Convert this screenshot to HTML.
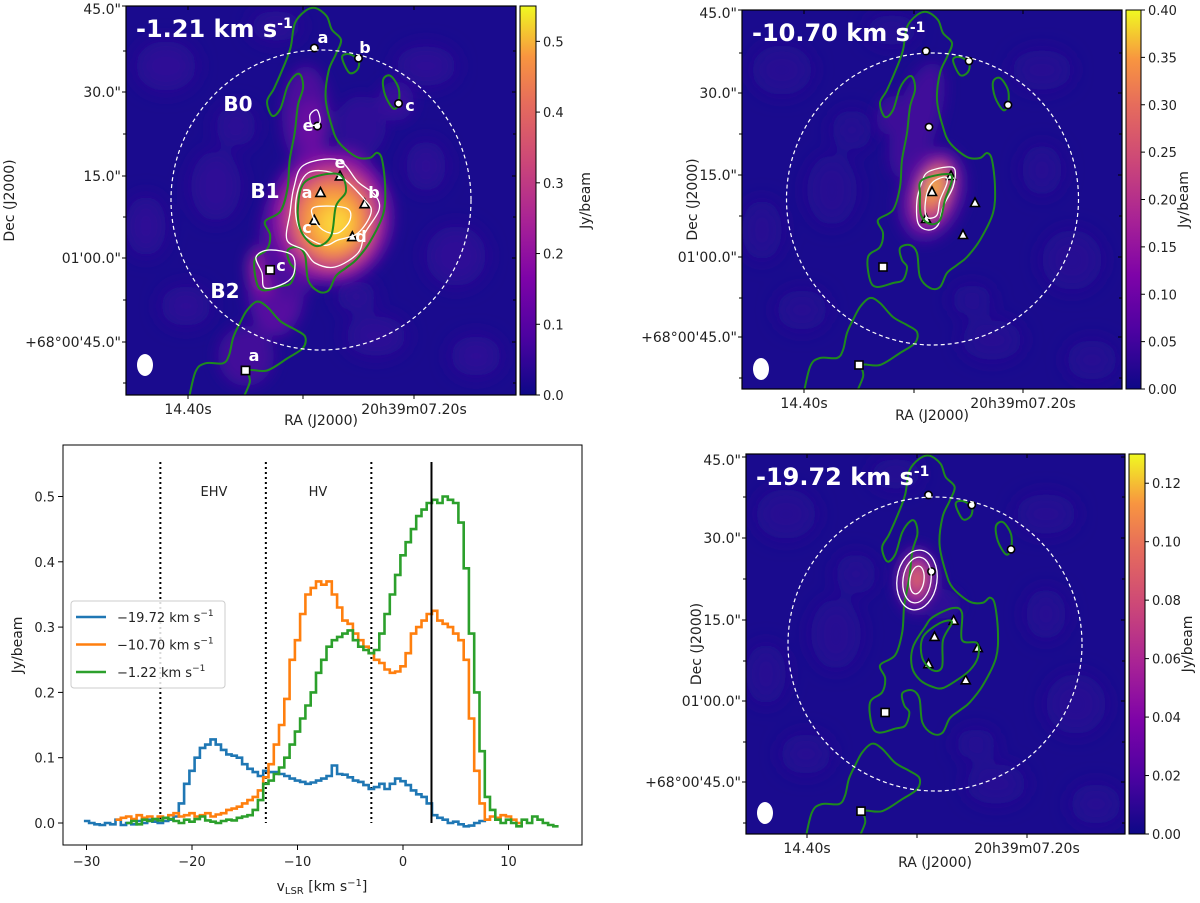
<!DOCTYPE html>
<html><head><meta charset="utf-8"><style>
body{margin:0;background:#fff;}
svg text{font-family:"DejaVu Sans","Liberation Sans",sans-serif;}
</style></head><body>
<svg id="fig" xmlns="http://www.w3.org/2000/svg" width="1200" height="898" viewBox="0 0 1200 898">
<defs>
<linearGradient id="plasma" x1="0" y1="1" x2="0" y2="0">
<stop offset="0" stop-color="#0d0887"/><stop offset="0.15" stop-color="#4c02a1"/><stop offset="0.3" stop-color="#7e03a8"/><stop offset="0.45" stop-color="#a92395"/><stop offset="0.6" stop-color="#cc4778"/><stop offset="0.75" stop-color="#e66c5c"/><stop offset="0.87" stop-color="#f89540"/><stop offset="1" stop-color="#f0f921"/>
</linearGradient>
<filter id="blur" x="-50%" y="-50%" width="200%" height="200%"><feGaussianBlur stdDeviation="7"/></filter>
<filter id="blur3" x="-50%" y="-50%" width="200%" height="200%"><feGaussianBlur stdDeviation="10"/></filter>
<clipPath id="cp1"><rect x="0" y="0" width="390" height="389"/></clipPath>
<clipPath id="cp2"><rect x="0" y="0" width="380" height="379"/></clipPath>
<clipPath id="cp3"><rect x="0" y="0" width="379" height="380"/></clipPath>
<clipPath id="cps"><rect x="63" y="445" width="519" height="400"/></clipPath>
</defs>
<g id="maps"></g>
<g id="spec"></g>
</svg>
<script>
// ---------- spectrum data ----------
const blueStart = -30;
const blueVals = [0.003,0.0,-0.002,-0.003,0.0,-0.002,0.005,-0.003,0.0,-0.002,0.003,0.0,0.005,0.002,0.0,0.003,0.005,
0.01,0.03,0.06,0.08,0.10,0.115,0.12,0.128,0.12,0.112,0.105,0.103,0.1,0.09,0.083,0.078,0.072,0.08,0.078,0.078,0.075,0.072,0.068,0.065,0.063,0.06,0.062,0.065,0.068,0.072,0.088,0.075,0.074,0.07,0.065,0.063,0.058,0.052,0.055,0.06,0.052,0.06,0.068,0.064,0.058,0.05,0.044,0.04,0.03,0.012,0.008,0.005,0.0,0.002,-0.002,-0.005,-0.004,0.0,0.003,0.005];
const orangeStart = -27;
const orangeVals = [0.005,0.008,0.01,0.006,0.012,0.008,0.01,0.006,0.01,0.008,0.012,
0.015,0.01,0.012,0.015,0.01,0.012,0.015,0.01,0.013,0.015,0.02,0.022,0.025,0.03,0.035,0.04,0.05,0.07,0.09,0.12,0.15,0.19,0.25,0.28,0.32,0.35,0.36,0.37,0.365,0.37,0.35,0.33,0.31,0.305,0.29,0.28,0.27,0.26,0.25,0.245,0.235,0.23,0.232,0.24,0.26,0.29,0.30,0.31,0.32,0.325,0.31,0.305,0.30,0.29,0.28,0.25,0.16,0.08,0.03,0.005,0.01,0.008,0.012,0.01,0.005,0.0];
const greenStart = -26;
const greenVals = [0.0,0.003,-0.002,0.005,0.003,0.006,0.004,0.008,0.006,0.003,0.0,0.005,0.002,0.006,0.01,0.004,0.002,0.0,0.003,0.005,0.004,0.008,0.01,0.012,0.02,
0.035,0.06,0.065,0.075,0.085,0.1,0.12,0.14,0.16,0.18,0.2,0.23,0.25,0.27,0.28,0.285,0.29,0.295,0.28,0.27,0.265,0.26,0.265,0.29,0.32,0.35,0.38,0.41,0.43,0.45,0.47,0.48,0.49,0.495,0.49,0.5,0.495,0.49,0.46,0.39,0.29,0.2,0.11,0.04,0.02,0.005,0.0,0.005,0.0,-0.005,0.005,0.0,0.01,0.005,0.0,-0.003,-0.005];
const chanWidth = 0.5;
const xTicks = [-30,-20,-10,0,10];
const yTicks = [0.0,0.1,0.2,0.3,0.4,0.5];
const regionLines = [-23,-13,-3];
const systemicV = 2.7;
const seriesNames = ["-19.72","-10.70","-1.22"];
const seriesColors = ["#1f77b4","#ff7f0e","#2ca02c"];

const NS="http://www.w3.org/2000/svg";
function mk(tag,attrs,parent){const e=document.createElementNS(NS,tag);for(const k in attrs)e.setAttribute(k,attrs[k]);if(parent)parent.appendChild(e);return e;}
const sx=v=>403+10.55*v;
const sy=f=>823-653*f;
const spec=document.getElementById('spec');

let fr=mk('rect',{x:63,y:445,width:519,height:400,fill:'none',stroke:'#000','stroke-width':1},spec);


xTicks.forEach(t=>{
  let l=mk('line',{x1:sx(t),x2:sx(t),y1:845,y2:850,stroke:'#000'},spec);
  
  
  let tx=mk('text',{x:sx(t),y:866,'text-anchor':'middle','font-size':13,fill:'#222'},spec);
  tx.textContent=(t<0?'\u2212':'')+Math.abs(t);
  
  
});
yTicks.forEach(t=>{
  let l=mk('line',{x1:58,x2:63,y1:sy(t),y2:sy(t),stroke:'#000'},spec);
  
  
  let tx=mk('text',{x:55,y:sy(t)+5,'text-anchor':'end','font-size':13,fill:'#222'},spec);
  tx.textContent=t.toFixed(1);
  
  
});
let yl=mk('text',{x:0,y:0,transform:'translate(22,645) rotate(-90)','text-anchor':'middle','font-size':14,fill:'#222'},spec);
yl.textContent='Jy/beam';


let xl=mk('text',{x:322,y:891,'text-anchor':'middle','font-size':14,fill:'#222'},spec);
xl.innerHTML='v<tspan font-size="10" dy="3">LSR</tspan><tspan dy="-3"> [km s</tspan><tspan font-size="10" dy="-5">\u22121</tspan><tspan dy="5">]</tspan>';



const plotG=mk('g',{'clip-path':'url(#cps)'},spec);
regionLines.forEach(v=>{
  let l=mk('line',{x1:sx(v),x2:sx(v),y1:462,y2:823,stroke:'#000','stroke-width':2,'stroke-dasharray':'2,3'},plotG);
  
  
});
function stepPath(start,vals){
  let d='';
  vals.forEach((f,i)=>{const v=start+i*chanWidth;const x0=sx(v-chanWidth/2),x1=sx(v+chanWidth/2),y=sy(f);d+=(i===0?'M':'L')+x0.toFixed(1)+','+y.toFixed(1)+'L'+x1.toFixed(1)+','+y.toFixed(1);});
  return d;
}
[[blueStart,blueVals],[orangeStart,orangeVals],[greenStart,greenVals]].forEach((s,i)=>{
  let p=mk('path',{d:stepPath(s[0],s[1]),fill:'none',stroke:seriesColors[i],'stroke-width':2.6,'stroke-linejoin':'miter'},plotG);
  
  
});
let sl=mk('line',{x1:sx(systemicV),x2:sx(systemicV),y1:462,y2:823,stroke:'#000','stroke-width':2},plotG);


let t1=mk('text',{x:214,y:496,'text-anchor':'middle','font-size':13,fill:'#222'},spec);t1.textContent='EHV';


let t2=mk('text',{x:318,y:496,'text-anchor':'middle','font-size':13,fill:'#222'},spec);t2.textContent='HV';


const lg=mk('g',{},spec);


mk('rect',{x:71,y:601,width:154,height:87,rx:3,fill:'#fff','fill-opacity':0.85,stroke:'#ccc'},lg);
seriesNames.forEach((n,i)=>{
  const y=617+i*27.5;
  let e=mk('g',{},lg);
  
  
  mk('line',{x1:76,x2:106,y1:y,y2:y,stroke:seriesColors[i],'stroke-width':2.6},e);
  let t=mk('text',{x:117,y:y+5,'font-size':13,fill:'#222'},e);
  t.innerHTML=n.replace('-','\u2212')+' km s<tspan font-size="9" dy="-6">\u22121</tspan>';
});

// ---------- maps ----------
const maps=document.getElementById('maps');
const outerC=[[185,2],[196,10],[201,23],[210,33],[205,47],[198,63],[195,90],[201,117],[208,133],[225,147],[238,148],[245,143],[250,150],[253,177],[251,203],[238,230],[225,247],[215,255],[205,263],[198,277],[188,278],[178,267],[175,243],[168,235],[158,238],[160,250],[165,257],[161,270],[151,273],[135,277],[128,270],[126,247],[138,237],[141,223],[136,210],[151,200],[158,177],[160,150],[165,123],[168,97],[173,80],[171,68],[166,67],[158,78],[151,100],[143,107],[138,93],[145,80],[155,57],[161,40],[165,17],[175,5]];
const lowerC=[[110,392],[121,367],[120,355],[138,355],[158,343],[173,333],[175,322],[165,315],[151,307],[138,293],[128,288],[118,297],[111,310],[105,323],[101,340],[95,348],[78,348],[68,357],[60,392]];
const loopB=[[211,50],[218,65],[226,62],[227,53],[218,47]];
const loopC=[[266,95],[261,100],[253,87],[251,72],[258,68],[266,80]];
const circMk=[[184,41],[227,51],[266,95],[187,117]];
const triMk=[[209,166],[190,182],[233,193],[184,209],[221,225]];
const sqMk=[[141,257],[117,355]];
// faint background haze blobs (common coords)
const haze=[[40,60,30,25],[90,180,25,35],[300,60,30,20],[330,250,30,30],[60,300,25,20],[250,330,30,20],[300,160,20,25],[20,220,20,30],[150,20,25,15],[350,350,25,20],[230,290,20,15],[110,120,20,20]];

function smooth(pts,closed){
  const n=pts.length;const P=i=>closed?pts[(i+n)%n]:pts[Math.max(0,Math.min(n-1,i))];
  let d='M'+pts[0][0]+','+pts[0][1];
  const m=closed?n:n-1;
  for(let i=0;i<m;i++){const p0=P(i-1),p1=P(i),p2=P(i+1),p3=P(i+2);
    const c1=[p1[0]+(p2[0]-p0[0])/6,p1[1]+(p2[1]-p0[1])/6],c2=[p2[0]-(p3[0]-p1[0])/6,p2[1]-(p3[1]-p1[1])/6];
    d+='C'+c1.map(v=>v.toFixed(1)).join(',')+' '+c2.map(v=>v.toFixed(1)).join(',')+' '+p2[0]+','+p2[1];}
  return d+(closed?'Z':'');
}
function contour(g,pts,closed,color,w,name){let p=mk('path',{d:smooth(pts,closed),fill:'none',stroke:color,'stroke-width':w},g);return p;}

const panels=[
 {x:126,y:6,w:390,h:389,cp:'cp1',cx:195,cy:194,r:150,title:'-1.21',cb:{x:520,w:16,max:0.55,ticks:[0,0.1,0.2,0.3,0.4,0.5],dec:1,lx:590},
  xt:[62,177,288],yt:[0,86,170,252,336],yminor:[45,128,211,294,377],ra:[321,425]},
 {x:742,y:10,w:380,h:379,cp:'cp2',cx:190.5,cy:189,r:146,title:'-10.70',cb:{x:1126,w:15,max:0.40,ticks:[0,0.05,0.1,0.15,0.2,0.25,0.3,0.35,0.4],dec:2,lx:1188},
  xt:[62,172,281],yt:[0,83,165,247,327],yminor:[43,124,206,288,368],ra:[932,420]},
 {x:746,y:454,w:379,h:380,cp:'cp3',cx:189,cy:190,r:147,title:'-19.72',cb:{x:1129,w:16,max:0.13,ticks:[0,0.02,0.04,0.06,0.08,0.1,0.12],dec:2,lx:1192},
  xt:[61,171,281],yt:[3,84,166,247,328],yminor:[43,125,207,288,369],ra:[935,867]}
];
panels.forEach((P,pi)=>{
  const g=mk('g',{transform:`translate(${P.x},${P.y})`},maps);
  
  
  const c=mk('g',{'clip-path':`url(#${P.cp})`},g);
  mk('rect',{x:0,y:0,width:P.w,height:P.h,fill:'#1a0b8e'},c);
  const hz=mk('g',{filter:'url(#blur3)'},c);
  haze.forEach(h=>mk('ellipse',{cx:h[0],cy:h[1],rx:h[2],ry:h[3],fill:pi===0?'#2e0a96':'#260a93'},hz));
  const em=mk('g',{filter:'url(#blur)'},c);
  
  
  const s=P.r/146;
  const inner=mk('g',{transform:`translate(${P.cx},${P.cy}) scale(${s.toFixed(3)}) translate(-190.5,-189)`},c);
  if(pi===0){
    [[180,110,24,50,'#4e0b9c'],[185,120,14,25,'#6a10a2'],[270,95,18,20,'#38089a'],[150,285,28,45,'#560ca0'],[120,350,28,30,'#42099a'],[140,262,18,24,'#9a1f9c'],[165,235,32,60,'#4a0a9c'],[235,120,25,30,'#2e0896'],
     [205,210,62,68,'#6f10a4'],[205,212,52,58,'#a92395'],[206,213,43,48,'#d8586c'],[207,214,34,38,'#f48a46'],[208,216,24,27,'#f9b03a'],[210,218,15,16,'#fcd53a']]
     .forEach(e=>mk('ellipse',{cx:e[0],cy:e[1],rx:e[2],ry:e[3],fill:e[4]},em));
  } else if(pi===1){
    [[175,110,22,60,'#3f089a'],[150,105,15,20,'#3e0898'],[190,185,32,48,'#4d0a9e'],[191,183,22,38,'#8a1aa0'],[192,182,15,30,'#cc4778'],[192,180,9,20,'#f3913f'],[192,176,5,10,'#f8c33a']]
     .forEach(e=>mk('ellipse',{cx:e[0],cy:e[1],rx:e[2],ry:e[3],fill:e[4],transform:`rotate(18 ${e[0]} ${e[1]})`},em));
  } else {
    [[171,126,22,34,'#4a099c'],[171,126,15,26,'#8e1ba0'],[171,126,10,18,'#c8437e'],[171,124,5,10,'#e8744f'],[195,150,20,15,'#2e0a96']]
     .forEach(e=>mk('ellipse',{cx:e[0],cy:e[1],rx:e[2],ry:e[3],fill:e[4]},em));
  }
  let ci=mk('circle',{cx:P.cx,cy:P.cy,r:P.r,fill:'none',stroke:'#fff','stroke-width':1.2,'stroke-dasharray':'4,3'},c);
  
  
  contour(inner,outerC,true,'#1e8a1e',2,'green-contour');
  contour(inner,lowerC,false,'#1e8a1e',2,'green-contour');
  contour(inner,loopB,true,'#1e8a1e',2,'green-contour');
  contour(inner,loopC,true,'#1e8a1e',2,'green-contour');
  if(pi===0){
    contour(c,[[178,159],[212,154],[232,176],[249,189],[253,204],[239,227],[232,247],[209,261],[189,257],[178,244],[161,234],[164,207],[168,181]],true,'#fff',1.3,'white-contour');
    contour(c,[[182,167],[212,169],[239,194],[245,207],[232,227],[212,234],[197,239],[174,224],[170,194]],true,'#fff',1.3,'white-contour');
    contour(c,[[189,201],[220,202],[224,214],[212,227],[197,224],[187,211]],true,'#fff',1.3,'white-contour');
    contour(c,[[130,251],[143,244],[166,249],[168,267],[159,277],[139,282],[136,267]],true,'#fff',1.3,'white-contour');
    contour(c,[[184,109],[191,104],[194,116],[186,119]],true,'#fff',1.3,'white-contour');
    contour(c,[[180,175],[212,168],[220,185],[210,200],[205,230],[190,240],[175,225],[172,200]],true,'#1e8a1e',2,'green-contour');
  } else if(pi===1){
    contour(c,[[186,162],[205,157],[213,160],[211,177],[201,197],[196,215],[186,220],[176,213],[175,190],[180,172]],true,'#fff',1.3,'white-contour');
    contour(c,[[191,172],[203,167],[205,173],[198,190],[195,205],[186,208],[183,200],[185,183]],true,'#fff',1.3,'white-contour');
    contour(c,[[180,170],[205,164],[210,170],[203,190],[198,210],[188,214],[179,205],[178,185]],true,'#1e8a1e',2,'green-contour');
  } else {
    [[20,30],[14,23],[7,14]].forEach(r=>{let e=mk('ellipse',{cx:171,cy:126,rx:r[0],ry:r[1],fill:'none',stroke:'#fff','stroke-width':1.3,transform:'rotate(8 171 126)'},c);
      
      });
    contour(c,[[179,173],[187,163],[207,154],[216,159],[216,186],[231,189],[232,203],[224,216],[211,226],[197,234],[187,233],[174,226],[166,213],[167,193]],true,'#1e8a1e',2,'green-contour');
    contour(c,[[177,183],[194,169],[206,168],[197,186],[196,213],[186,216],[176,203]],true,'#1e8a1e',2,'green-contour');
  }
  circMk.forEach(p=>{let m=mk('circle',{cx:p[0],cy:p[1],r:3.6,fill:'#fff',stroke:'#000','stroke-width':1.6},inner);
    
    });
  triMk.forEach(p=>{let m=mk('path',{d:`M${p[0]},${p[1]-5}L${p[0]+4.5},${p[1]+3.5}L${p[0]-4.5},${p[1]+3.5}Z`,fill:'#fff',stroke:'#000','stroke-width':1.6},inner);
    
    });
  sqMk.forEach(p=>{let m=mk('rect',{x:p[0]-4,y:p[1]-4,width:8,height:8,fill:'#fff',stroke:'#000','stroke-width':1.6},inner);
    
    });
  let be=mk('ellipse',{cx:19,cy:359,rx:8,ry:11,fill:'#fff'},c);
  
  
  let tt=mk('text',{x:10,y:31,'font-size':24,'font-weight':'bold',fill:'#fff','font-family':'Liberation Sans'},c);
  tt.innerHTML=P.title+' km s<tspan font-size="14" dy="-9">-1</tspan>';
  
  
  if(pi===0){
    [['a',197,31],['b',239,41],['c',284,99],['B0',112,99],['e',182,119],['e',214,156],['B1',139,186],['a',181,186],['b',248,186],['c',181,221],['d',235,230],['c',155,259],['B2',99,286],['a',128,349]]
    .forEach(l=>{let t=mk('text',{x:l[1],y:l[2]+6,'text-anchor':'middle','font-size':l[0].length>1?20:16,'font-weight':'bold',fill:'#fff','font-family':'Liberation Sans'},c);
      t.textContent=l[0];
      
      });
  }
  mk('rect',{x:0,y:0,width:P.w,height:P.h,fill:'none',stroke:'#000','stroke-width':1.2},g);
  P.xt.forEach((x,i)=>{
    mk('line',{x1:x,x2:x,y1:P.h,y2:P.h+4,stroke:'#000'},g);mk('line',{x1:x,x2:x,y1:0,y2:4,stroke:'#000'},g);
    if(i!==1){let t=mk('text',{x:x,y:P.h+19,'text-anchor':'middle','font-size':14,fill:'#222'},g);t.textContent=i===0?'14.40s':'20h39m07.20s';
      
      }
  });
  const ylabs=['45.0"','30.0"','15.0"','01\'00.0"','+68\u00b000\'45.0"'];
  P.yt.forEach((y,i)=>{
    mk('line',{x1:-4,x2:0,y1:y,y2:y,stroke:'#000'},g);mk('line',{x1:P.w-4,x2:P.w,y1:y,y2:y,stroke:'#000'},g);
    let t=mk('text',{x:-5,y:y+(i===0?8:5),'text-anchor':'end','font-size':14,fill:'#222'},g);t.textContent=ylabs[i];
    
    
  });
  P.yminor.forEach(y=>{mk('line',{x1:-3,x2:0,y1:y,y2:y,stroke:'#000'},g);mk('line',{x1:P.w-3,x2:P.w,y1:y,y2:y,stroke:'#000'},g);});
  let dl=mk('text',{x:0,y:0,'text-anchor':'middle','font-size':14,fill:'#222'},g);
  if(pi===0) dl.setAttribute('transform',`translate(${14-P.x},${P.h/2}) rotate(-90)`);
  else dl.setAttribute('transform',`translate(${-45},${P.h/2}) rotate(-90)`);
  dl.textContent='Dec (J2000)';
  
  
  let ra=mk('text',{x:P.ra[0],y:P.ra[1],'text-anchor':'middle','font-size':14,fill:'#222'},maps);ra.textContent='RA (J2000)';
  
  
  const cb=P.cb, top=P.y, bot=P.y+P.h;
  const cg=mk('g',{},maps);
  
  
  mk('rect',{x:cb.x,y:top,width:cb.w,height:P.h,fill:'url(#plasma)',stroke:'#000','stroke-width':1},cg);
  cb.ticks.forEach(v=>{const y=bot-(v/cb.max)*P.h;
    mk('line',{x1:cb.x+cb.w,x2:cb.x+cb.w+4,y1:y,y2:y,stroke:'#000'},cg);
    let t=mk('text',{x:cb.x+cb.w+7,y:y+5,'font-size':13,fill:'#222'},cg);t.textContent=v.toFixed(cb.dec);
    
    });
  let jl=mk('text',{x:0,y:0,transform:`translate(${cb.lx},${top+P.h/2}) rotate(-90)`,'text-anchor':'middle','font-size':14,fill:'#222'},cg);
  jl.textContent='Jy/beam';
  
  
});
</script>
</body></html>
